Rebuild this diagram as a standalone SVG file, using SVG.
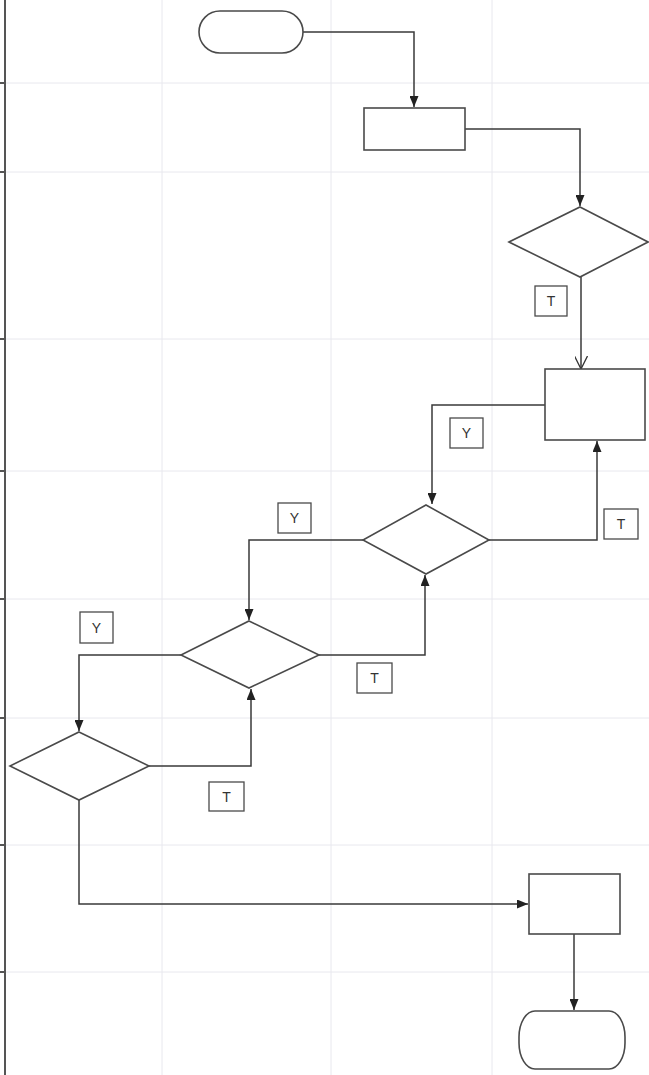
<svg xmlns="http://www.w3.org/2000/svg" width="649" height="1075" viewBox="0 0 649 1075">
<style>
.grid{stroke:#e8e8ee;stroke-width:1;fill:none}
.edge{stroke:#555;stroke-width:2;fill:none}
.shape{fill:#fff;stroke:#4a4a4a;stroke-width:1.6}
.conn{fill:none;stroke:#3a3a3a;stroke-width:1.5}
.lbl{fill:#fff;stroke:#4a4a4a;stroke-width:1.3}
.lt{font-family:"Liberation Sans",Arial,sans-serif;font-size:14px;fill:#333;text-anchor:middle;dominant-baseline:central}
</style>
<defs>
<marker id="fa" viewBox="0 0 10 10" refX="10" refY="5" markerWidth="11" markerHeight="9" markerUnits="userSpaceOnUse" orient="auto" preserveAspectRatio="none"><path d="M0,0 L10,5 L0,10 z" fill="#222"/></marker>
<marker id="oa" viewBox="0 0 10 10" refX="10" refY="5" markerWidth="13" markerHeight="13" markerUnits="userSpaceOnUse" orient="auto"><path d="M0,0 L10,5 L0,10" fill="none" stroke="#333" stroke-width="1"/></marker>
</defs>
<rect width="649" height="1075" fill="#fff"/>
<g id="grid">
<path class="grid" d="M162,0V1075M331,0V1075M492,0V1075M5,83H649M5,172H649M5,339H649M5,471H649M5,599H649M5,718H649M5,845H649M5,972H649"/>
<path class="edge" d="M5,0V1075M0,83H5M0,172H5M0,339H5M0,471H5M0,599H5M0,718H5M0,845H5M0,972H5"/>
</g>
<g id="connectors">
<path class="conn" d="M303,32H414V107" marker-end="url(#fa)"/>
<path class="conn" d="M465,129H580V206" marker-end="url(#fa)"/>
<path class="conn" d="M581,277V369" marker-end="url(#oa)"/>
<path class="conn" d="M545,405H432V504" marker-end="url(#fa)"/>
<path class="conn" d="M489,540H597V441" marker-end="url(#fa)"/>
<path class="conn" d="M363,540H249V620" marker-end="url(#fa)"/>
<path class="conn" d="M319,655H425V575" marker-end="url(#fa)"/>
<path class="conn" d="M181,655H79V731" marker-end="url(#fa)"/>
<path class="conn" d="M149,766H251V689" marker-end="url(#fa)"/>
<path class="conn" d="M79,800V904H528" marker-end="url(#fa)"/>
<path class="conn" d="M574,934V1010" marker-end="url(#fa)"/>
</g>
<g id="start"><rect class="shape" x="199" y="11" width="104" height="42" rx="21" ry="21"/></g>
<g id="process1"><rect class="shape" x="364" y="108" width="101" height="42"/></g>
<g id="decision1"><polygon class="shape" points="580,207 648,242 580,277 509,242"/></g>
<g id="process2"><rect class="shape" x="545" y="369" width="100" height="71"/></g>
<g id="decision2"><polygon class="shape" points="426,505 489,540 426,574 363,540"/></g>
<g id="decision3"><polygon class="shape" points="249,621 319,655 249,688 181,655"/></g>
<g id="decision4"><polygon class="shape" points="79,732 149,766 79,800 10,766"/></g>
<g id="process3"><rect class="shape" x="529" y="874" width="91" height="60"/></g>
<g id="end"><rect class="shape" x="519" y="1011" width="106" height="58" rx="16" ry="26"/></g>
<g id="labels">
<g id="lbl-t1"><rect class="lbl" x="535" y="286" width="32" height="30"/><text class="lt" x="551" y="301">T</text></g>
<g id="lbl-y1"><rect class="lbl" x="450" y="418" width="33" height="30"/><text class="lt" x="466.5" y="433">Y</text></g>
<g id="lbl-t2"><rect class="lbl" x="604" y="509" width="34" height="30"/><text class="lt" x="621" y="524">T</text></g>
<g id="lbl-y2"><rect class="lbl" x="278" y="503" width="33" height="30"/><text class="lt" x="294.5" y="518">Y</text></g>
<g id="lbl-t3"><rect class="lbl" x="357" y="663" width="35" height="30"/><text class="lt" x="374.5" y="678">T</text></g>
<g id="lbl-y3"><rect class="lbl" x="80" y="612" width="33" height="31"/><text class="lt" x="96.5" y="627.5">Y</text></g>
<g id="lbl-t4"><rect class="lbl" x="209" y="782" width="35" height="29"/><text class="lt" x="226.5" y="796.5">T</text></g>
</g>
</svg>
